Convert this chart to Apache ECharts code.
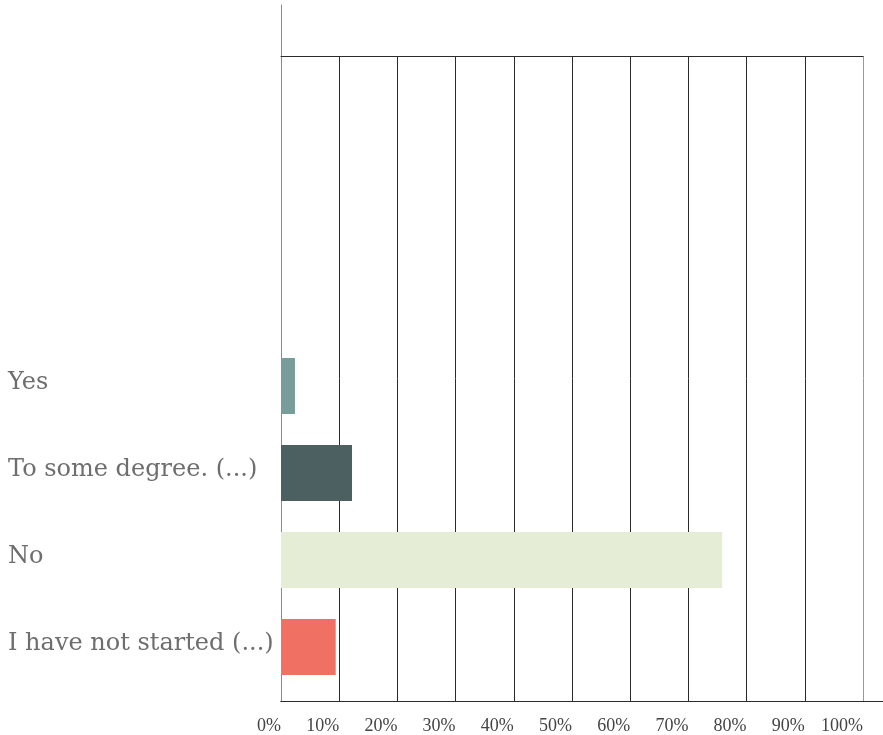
<!DOCTYPE html>
<html><head><meta charset="utf-8">
<style>html,body{margin:0;padding:0;background:#fff}#c{width:883px;height:735px}</style>
<script src="https://cdn.jsdelivr.net/npm/echarts@6/dist/echarts.min.js"></script>
</head><body><div id="c"></div>
<script>
const categories = ['I have not started (...)', 'No', 'To some degree. (...)', 'Yes'];
const values = [9.4, 75.8, 12.2, 2.4];
const barColors = ['#f07064', '#e5edd7', '#4c5f61', '#789c9a'];
const emptySlots = ['', '', '', ''];
const xMin = 0, xMax = 100, xStep = 10;

const yCats = categories.concat(emptySlots);
const splitColors = [];
for (let v = xMin; v <= xMax; v += xStep) splitColors.push(v === xMax ? '#9a9a9a' : '#2b2b2b');

const chart = echarts.init(document.getElementById('c'), null, {renderer: 'canvas'});
chart.setOption({
  animation: false,
  backgroundColor: '#ffffff',
  grid: [
    {left: 281, right: 20, top: 56, bottom: 34},
    {left: 281, right: 20, top: 5, bottom: 34},
    {left: 281, right: 0, top: 5, bottom: 34}
  ],
  xAxis: [
    {gridIndex: 0, type: 'value', min: xMin, max: xMax, interval: xStep, position: 'bottom',
     axisLine: {show: true, onZero: false, lineStyle: {color: '#2b2b2b', width: 1}},
     axisTick: {show: false},
     axisLabel: {formatter: '{value}%', align: 'right', margin: 16, color: '#444',
                 fontFamily: 'Liberation Serif', fontSize: 18},
     splitLine: {show: true, lineStyle: {color: splitColors, width: 1}}},
    {gridIndex: 0, type: 'value', min: xMin, max: xMax, position: 'top',
     axisLine: {show: true, onZero: false, lineStyle: {color: '#2b2b2b', width: 1}},
     axisTick: {show: false}, axisLabel: {show: false}, splitLine: {show: false}},
    {gridIndex: 1, type: 'value', min: xMin, max: xMax, show: false},
    {gridIndex: 2, type: 'value', min: 0, max: 1, position: 'bottom',
     axisLine: {show: true, onZero: false, lineStyle: {color: '#2b2b2b', width: 1}},
     axisTick: {show: false}, axisLabel: {show: false}, splitLine: {show: false}}
  ],
  yAxis: [
    {gridIndex: 0, type: 'value', show: false},
    {gridIndex: 1, type: 'category', data: yCats,
     axisLine: {show: true, onZero: false, lineStyle: {color: '#8a8a8a', width: 1}},
     axisTick: {show: false},
     axisLabel: {interval: 0, align: 'left', verticalAlign: 'bottom', lineHeight: 28, margin: 273,
                 color: '#6e6e6e', fontFamily: 'DejaVu Serif', fontSize: 24},
     splitLine: {show: false}},
    {gridIndex: 2, type: 'value', show: false}
  ],
  series: [
    {type: 'bar', xAxisIndex: 2, yAxisIndex: 1, barWidth: 56, barGap: '35.7%',
     data: values.map((v, i) => ({value: v, itemStyle: {color: barColors[i]}}))},
    {type: 'bar', xAxisIndex: 2, yAxisIndex: 1, barWidth: 1, barGap: '35.7%', data: [], silent: true}
  ]
});
</script>
</body></html>
